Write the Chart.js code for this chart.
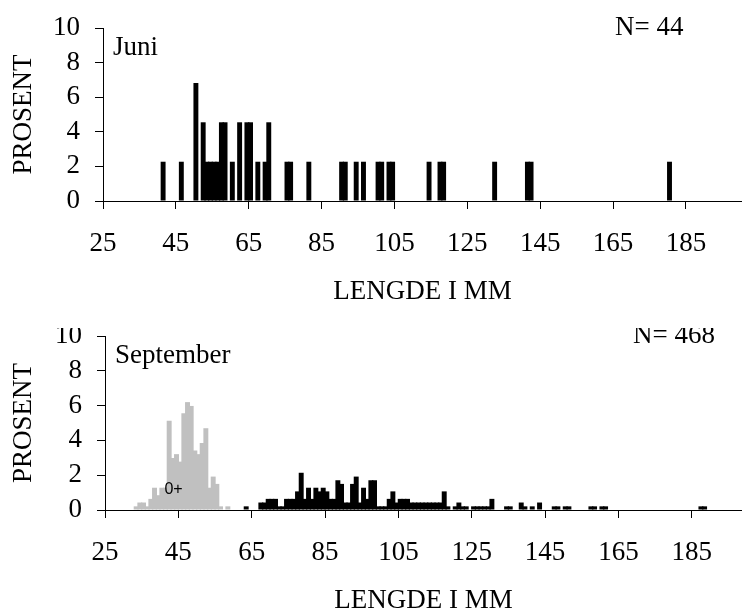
<!DOCTYPE html>
<html>
<head>
<meta charset="utf-8">
<script src="https://cdn.jsdelivr.net/npm/chart.js@4.4.1/dist/chart.umd.min.js"></script>
<style>
  body { margin: 0; background: #fff; }
  #wrap { position: relative; width: 742px; height: 613px; overflow: hidden; background: #fff; }
  #wrap canvas { position: absolute; left: 0; }
  #juni { top: 0; }
  #sept { top: 328px; }
</style>
</head>
<body>
<div id="wrap">
  <canvas id="juni" width="742" height="328"></canvas>
  <canvas id="sept" width="742" height="300"></canvas>
</div>
<script>
// axis ticks
const xTicks = [25, 45, 65, 85, 105, 125, 145, 165, 185];
const yTicks = [0, 2, 4, 6, 8, 10];

// Juni, N = 44 (length in mm, percent)
const juniLength = [41, 46, 50, 52, 53, 54, 55, 56, 57, 58, 60, 62, 64, 65, 67, 69, 70,
  75, 76, 81, 90, 91, 94, 96, 100, 101, 103, 104, 114, 117, 118, 132, 141, 142, 180];
const juniPct = [2.27, 2.27, 6.82, 4.55, 2.27, 2.27, 2.27, 2.27, 4.55, 4.55, 2.27, 4.55, 4.55, 4.55, 2.27, 2.27, 4.55,
  2.27, 2.27, 2.27, 2.27, 2.27, 2.27, 2.27, 2.27, 2.27, 2.27, 2.27, 2.27, 2.27, 2.27, 2.27, 2.27, 2.27, 2.27];

// September, N = 468 - 0+ (grey)
const septYoungLength = [33, 34, 35, 36, 37, 38, 39, 40, 41, 42, 43, 44, 45, 46, 47, 48, 49, 50, 51, 52, 53, 54, 55, 56, 58];
const septYoungPct = [0.21, 0.43, 0.43, 0.21, 0.64, 1.28, 0.85, 1.28, 1.28, 5.13, 2.99, 3.21, 2.78, 5.56, 6.2, 5.98,
  3.42, 3.21, 3.85, 4.7, 1.28, 1.92, 1.5, 0.21, 0.21];

// September - older fish (black)
const septOldLength = [63, 67, 68, 69, 70, 71, 72, 73, 74, 75, 76, 77, 78, 79, 80, 81, 82, 83, 84, 85, 86, 87, 88, 89,
  90, 91, 92, 93, 94, 95, 96, 97, 98, 99, 100, 101, 102, 103, 104, 105, 106, 107, 108, 109, 110, 111, 112, 113,
  114, 115, 116, 117, 118, 120, 121, 122, 123, 125, 126, 127, 128, 129, 130, 134, 135, 138, 139, 141, 143,
  147, 148, 150, 151, 157, 158, 160, 161, 187, 188];
const septOldPct = [0.21, 0.43, 0.43, 0.64, 0.64, 0.64, 0.21, 0.21, 0.64, 0.64, 0.64, 1.07, 2.14, 0.64, 1.28, 0.64,
  1.28, 1.07, 1.28, 1.07, 0.64, 0.64, 1.71, 1.5, 0.43, 0.43, 1.5, 1.92, 0.43, 1.28, 0.64, 1.71, 1.71, 0.21, 0.21,
  0.21, 0.64, 1.07, 0.43, 0.64, 0.64, 0.64, 0.43, 0.43, 0.43, 0.43, 0.43, 0.43, 0.43, 0.43, 0.43, 1.07, 0.21,
  0.21, 0.43, 0.21, 0.21, 0.21, 0.21, 0.21, 0.21, 0.21, 0.64, 0.21, 0.21, 0.43, 0.21, 0.21, 0.43,
  0.21, 0.21, 0.21, 0.21, 0.21, 0.21, 0.21, 0.21, 0.21, 0.21];

const SERIF = '"Liberation Serif", "Times New Roman", serif';
Chart.defaults.font.family = SERIF;
Chart.defaults.font.size = 27;
Chart.defaults.color = '#000';

// one bar per 1 mm class, drawn across [len, len + 1]
function toPoints(lengths, pct) {
  return lengths.map((l, i) => ({ x: l + 0.5, y: pct[i] }));
}

// month name, N= and the 0+ label
const notes = {
  id: 'notes',
  afterDraw(chart, args, o) {
    const { ctx, chartArea, scales } = chart;
    ctx.save();
    ctx.fillStyle = '#000';
    ctx.textAlign = 'left';
    ctx.textBaseline = 'alphabetic';
    ctx.font = '27px ' + SERIF;
    ctx.fillText(o.month, chartArea.left + 10, chartArea.top + 27);
    ctx.fillText(o.count, o.countX, chartArea.top + 7);
    if (o.cohort) {
      ctx.font = '16px "Liberation Sans", Arial, sans-serif';
      ctx.textAlign = 'center';
      ctx.textBaseline = 'middle';
      ctx.fillText(o.cohort.text, scales.x.getPixelForValue(o.cohort.x), scales.y.getPixelForValue(o.cohort.y));
    }
    ctx.restore();
  }
};

function histogram(id, o) {
  const canvas = document.getElementById(id);
  return new Chart(canvas, {
    type: 'bar',
    data: { datasets: o.datasets },
    options: {
      responsive: false,
      animation: false,
      devicePixelRatio: 1,
      layout: { padding: { top: o.top, left: 0, right: 0, bottom: 0 } },
      datasets: { bar: { grouped: false, barPercentage: 1.35, categoryPercentage: 1 } },
      plugins: { legend: { display: false }, tooltip: { enabled: false }, notes: o.notes },
      scales: {
        x: {
          type: 'linear',
          min: 25,
          max: o.xMax,
          offset: false,
          afterBuildTicks: s => { s.ticks = xTicks.map(v => ({ value: v })); },
          afterFit: s => { s.height = canvas.height - o.axisY; s.paddingLeft = 0; s.paddingRight = 0; },
          grid: { offset: false, drawOnChartArea: false, drawTicks: true, tickLength: 8, color: '#000' },
          border: { display: true, color: '#000', width: 1 },
          ticks: { padding: 19, maxRotation: 0, autoSkip: false },
          title: { display: true, text: 'LENGDE I MM', padding: { top: 0, bottom: o.titlePad } }
        },
        y: {
          min: 0,
          max: 10,
          afterBuildTicks: s => { s.ticks = yTicks.map(v => ({ value: v })); },
          afterFit: s => { s.width = o.axisX; s.paddingTop = 0; s.paddingBottom = 0; },
          grid: { drawOnChartArea: false, drawTicks: true, tickLength: 8, color: '#000' },
          border: { display: true, color: '#000', width: 1 },
          ticks: { padding: 15, autoSkip: false },
          title: { display: true, text: 'PROSENT', padding: { top: 8, bottom: 0 } }
        }
      }
    },
    plugins: [notes]
  });
}

histogram('juni', {
  top: 28, axisX: 103, axisY: 201, xMax: 200.4, titlePad: 20,
  notes: { month: 'Juni', count: 'N= 44', countX: 615 },
  datasets: [{ data: toPoints(juniLength, juniPct), backgroundColor: '#000' }]
});

histogram('sept', {
  top: 8, axisX: 105, axisY: 182, xMax: 198.7, titlePad: 11,
  notes: { month: 'September', count: 'N= 468', countX: 633, cohort: { text: '0+', x: 43.7, y: 1.2 } },
  datasets: [
    { data: toPoints(septYoungLength, septYoungPct), backgroundColor: '#c0c0c0' },
    { data: toPoints(septOldLength, septOldPct), backgroundColor: '#000' }
  ]
});
</script>
</body>
</html>
